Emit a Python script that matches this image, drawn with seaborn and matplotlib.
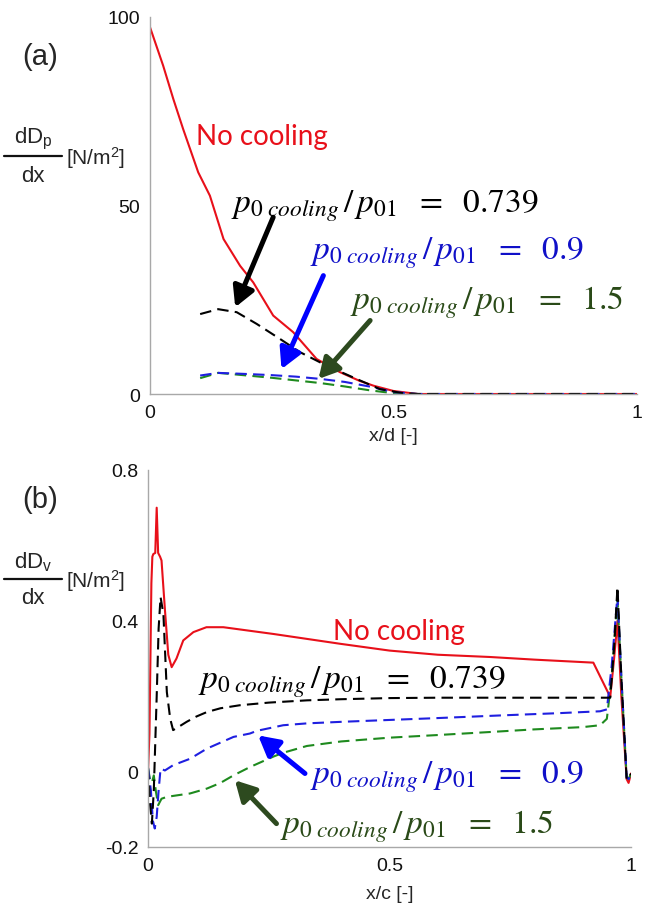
import matplotlib
matplotlib.use("Agg")
import matplotlib.pyplot as plt
from matplotlib.lines import Line2D
import seaborn as sns
import pandas as pd

# ---- data: panel (a), x/d ----
xa_nocool = [0, 0.027, 0.048, 0.068, 0.099, 0.123, 0.151, 0.185, 0.212, 0.253, 0.294,
             0.342, 0.39, 0.43, 0.459, 0.5, 0.55, 1.0]
ya_nocool = [97.3, 87.1, 78.2, 70.3, 58.8, 52.6, 41.1, 34.0, 29.6, 20.8, 16.4,
             9.3, 5.8, 3.5, 2.2, 0.8, 0, 0]
xa_p0739 = [0.103, 0.14, 0.178, 0.219, 0.267, 0.308, 0.363, 0.424, 0.472, 0.52, 0.55, 1.0]
ya_p0739 = [21.2, 22.5, 21.7, 18.6, 14.6, 11.1, 7.5, 4.0, 1.3, 0.2, 0, 0]
xa_p09 = [0.103, 0.14, 0.2, 0.25, 0.3, 0.35, 0.4, 0.45, 0.5, 0.55, 1.0]
ya_p09 = [4.9, 5.6, 5.3, 5.0, 4.6, 4.0, 3.2, 2.0, 0.5, 0, 0]
xa_p15 = [0.103, 0.14, 0.2, 0.25, 0.3, 0.35, 0.4, 0.45, 0.5, 0.55, 1.0]
ya_p15 = [4.2, 5.6, 4.9, 4.3, 3.6, 2.9, 2.0, 1.0, 0.2, 0, 0]

# ---- data: panel (b), x/c ----
xb_nocool = [0, 0.003, 0.007, 0.009, 0.011, 0.015, 0.018, 0.021, 0.025, 0.028, 0.035,
             0.042, 0.049, 0.059, 0.073, 0.094, 0.121, 0.156, 0.26, 0.398, 0.5, 0.6,
             0.708, 0.8, 0.922, 0.957, 0.965, 0.972, 0.98, 0.991, 0.995, 1.0]
yb_nocool = [0, 0.1, 0.5, 0.57, 0.577, 0.58, 0.70, 0.58, 0.57, 0.56, 0.43,
             0.31, 0.277, 0.30, 0.348, 0.37, 0.383, 0.383, 0.365, 0.339, 0.321, 0.31,
             0.304, 0.297, 0.289, 0.198, 0.3, 0.40, 0.2, -0.02, -0.03, -0.005]
xb_p0739 = [0, 0.004, 0.008, 0.012, 0.018, 0.022, 0.026, 0.029, 0.032, 0.039, 0.046,
            0.052, 0.065, 0.08, 0.1, 0.122, 0.15, 0.19, 0.25, 0.329, 0.4, 0.5, 0.6,
            0.7, 0.8, 0.9, 0.957, 0.965, 0.972, 0.98, 0.991, 0.995, 1.0]
yb_p0739 = [0.01, -0.08, -0.138, -0.05, 0.2, 0.38, 0.463, 0.44, 0.415, 0.211, 0.14,
            0.11, 0.12, 0.132, 0.146, 0.158, 0.168, 0.176, 0.183, 0.189, 0.192, 0.195, 0.196,
            0.196, 0.196, 0.196, 0.196, 0.33, 0.49, 0.25, -0.019, -0.02, -0.005]
xb_p09 = [0, 0.006, 0.01, 0.014, 0.018, 0.022, 0.026, 0.035, 0.052, 0.087, 0.122,
          0.177, 0.211, 0.225, 0.28, 0.33, 0.4, 0.48, 0.6, 0.73, 0.85, 0.936, 0.95,
          0.96, 0.972, 0.98, 0.991, 0.995, 1.0]
yb_p09 = [0.01, -0.05, -0.13, -0.151, -0.12, -0.05, 0.008, 0.003, 0.017, 0.034, 0.061,
          0.092, 0.101, 0.108, 0.123, 0.128, 0.132, 0.136, 0.142, 0.149, 0.155, 0.160, 0.165,
          0.28, 0.467, 0.25, -0.015, -0.02, -0.005]
xb_p15 = [0, 0.004, 0.008, 0.012, 0.016, 0.021, 0.028, 0.039, 0.06, 0.087, 0.122,
          0.15, 0.177, 0.211, 0.225, 0.26, 0.28, 0.329, 0.4, 0.5, 0.6, 0.708, 0.8,
          0.9, 0.936, 0.95, 0.96, 0.972, 0.98, 0.991, 0.995, 1.0]
yb_p15 = [0.01, -0.02, -0.03, -0.01, -0.05, -0.089, -0.072, -0.067, -0.063, -0.058, -0.045,
          -0.03, -0.01, 0.012, 0.02, 0.04, 0.05, 0.068, 0.08, 0.09, 0.097, 0.105, 0.112,
          0.118, 0.123, 0.14, 0.25, 0.458, 0.25, -0.015, -0.02, -0.005]

RED = "#e8101a"
BLACK = "#000000"
BLUE = "#1f1fe0"
GREEN = "#1e8a1e"
TXT_BLUE = "#1010c8"
TXT_GREEN = "#2a4a18"
ARR_GREEN = "#2d4a1f"

sns.set_style("white")
plt.rcParams["font.family"] = ["Liberation Sans", "DejaVu Sans"]
plt.rcParams["mathtext.fontset"] = "custom"
plt.rcParams["mathtext.rm"] = "Liberation Sans"
plt.rcParams["mathtext.it"] = "Liberation Sans:italic"

W, H = 645, 920
fig = plt.figure(figsize=(W / 100, H / 100), dpi=100)


def px_axes(l, r, t, b):
    return fig.add_axes([l / W, 1 - b / H, (r - l) / W, (b - t) / H])


def line(ax, xs, ys, color, dashed):
    df = pd.DataFrame({"x": xs, "y": ys})
    sns.lineplot(data=df, x="x", y="y", ax=ax, color=color, lw=1.5,
                 sort=False, estimator=None)
    if dashed:
        ax.lines[-1].set_dashes((5.5, 3))


def style_axes(ax):
    sns.despine(ax=ax)
    for s in ("left", "bottom"):
        ax.spines[s].set_color("#a8a8a8")
        ax.spines[s].set_linewidth(1.0)
    ax.tick_params(direction="in", length=4, width=0.8, color="#a8a8a8",
                   labelsize=14, labelcolor="#111111", pad=7)
    ax.set_xlabel("")
    ax.set_ylabel("")


def ptext(x, y, val, color):
    fig.text(x / W, 1 - y / H, r"$p_{0\ cooling}\,/\,p_{01}\ \ =\ \ %s$" % val,
             color=color, fontsize=24, ha="left", va="center", math_fontfamily="stix")


def frac_label(yc, sub):
    # fraction "dD_sub / dx [N/m^2]" centred on the bar at pixel row yc
    fig.text(33 / W, 1 - (yc - 18) / H, r"dD$_{\mathregular{%s}}$" % sub, fontsize=16,
             ha="center", va="center")
    fig.add_artist(Line2D([4 / W, 62 / W], [1 - yc / H, 1 - yc / H],
                          color="#111111", lw=1.6))
    fig.text(33 / W, 1 - (yc + 19) / H, "dx", fontsize=16, ha="center", va="center")
    fig.text(66 / W, 1 - (yc + 1) / H, "[N/m$^2$]", fontsize=15, ha="left", va="center")


def arrow(ax, tail, tip, color):
    ax.annotate("", xy=tip, xytext=tail,
                arrowprops=dict(arrowstyle="-|>,head_length=0.55,head_width=0.3",
                                lw=3.6, color=color, mutation_scale=22,
                                shrinkA=0, shrinkB=0))


# ---- panel (a) ----
ax1 = px_axes(150, 637, 18, 395)
line(ax1, xa_nocool, ya_nocool, RED, False)
line(ax1, xa_p15, ya_p15, GREEN, True)
line(ax1, xa_p09, ya_p09, BLUE, True)
line(ax1, xa_p0739, ya_p0739, BLACK, True)
ax1.set_xlim(0, 1)
ax1.set_ylim(0, 100)
ax1.set_xticks([0, 0.5, 1])
ax1.set_xticklabels(["0", "0.5", "1"])
ax1.set_yticks([0, 50, 100])
style_axes(ax1)
fig.text(393 / W, 1 - 437 / H, "x/d [-]", fontsize=14, ha="center", va="center")
arrow(ax1, (0.253, 46.9), (0.175, 23.0), BLACK)
arrow(ax1, (0.356, 31.4), (0.270, 6.6), "#0000ff")
arrow(ax1, (0.452, 19.5), (0.346, 4.0), ARR_GREEN)

fig.text(22 / W, 1 - 57 / H, "(a)", fontsize=21, ha="left", va="center")
frac_label(157, "p")
fig.text(196 / W, 1 - 137 / H, "No cooling", color=RED, fontsize=20,
         family=["Lato", "DejaVu Sans"], ha="left", va="center")
ptext(231, 206, "0.739", BLACK)
ptext(310, 253, "0.9", TXT_BLUE)
ptext(350, 303, "1.5", TXT_GREEN)

# ---- panel (b) ----
ax2 = px_axes(148, 631, 471, 848)
line(ax2, xb_nocool, yb_nocool, RED, False)
line(ax2, xb_p15, yb_p15, GREEN, True)
line(ax2, xb_p09, yb_p09, BLUE, True)
line(ax2, xb_p0739, yb_p0739, BLACK, True)
ax2.set_xlim(0, 1)
ax2.set_ylim(-0.2, 0.8)
ax2.set_xticks([0, 0.5, 1])
ax2.set_xticklabels(["0", "0.5", "1"])
ax2.set_yticks([-0.2, 0, 0.4, 0.8])
ax2.set_yticklabels(["-0.2", "0", "0.4", "0.8"])
style_axes(ax2)
fig.text(390 / W, 1 - 895 / H, "x/c [-]", fontsize=14, ha="center", va="center")
arrow(ax2, (0.325, -0.005), (0.228, 0.096), "#0000ff")
arrow(ax2, (0.266, -0.138), (0.18, -0.023), ARR_GREEN)

fig.text(22 / W, 1 - 500 / H, "(b)", fontsize=21, ha="left", va="center")
frac_label(580, "v")
fig.text(333 / W, 1 - 632 / H, "No cooling", color=RED, fontsize=20,
         family=["Lato", "DejaVu Sans"], ha="left", va="center")
ptext(198, 682, "0.739", BLACK)
ptext(310, 777, "0.9", TXT_BLUE)
ptext(280, 827, "1.5", TXT_GREEN)

fig.savefig("out.png", dpi=100)
